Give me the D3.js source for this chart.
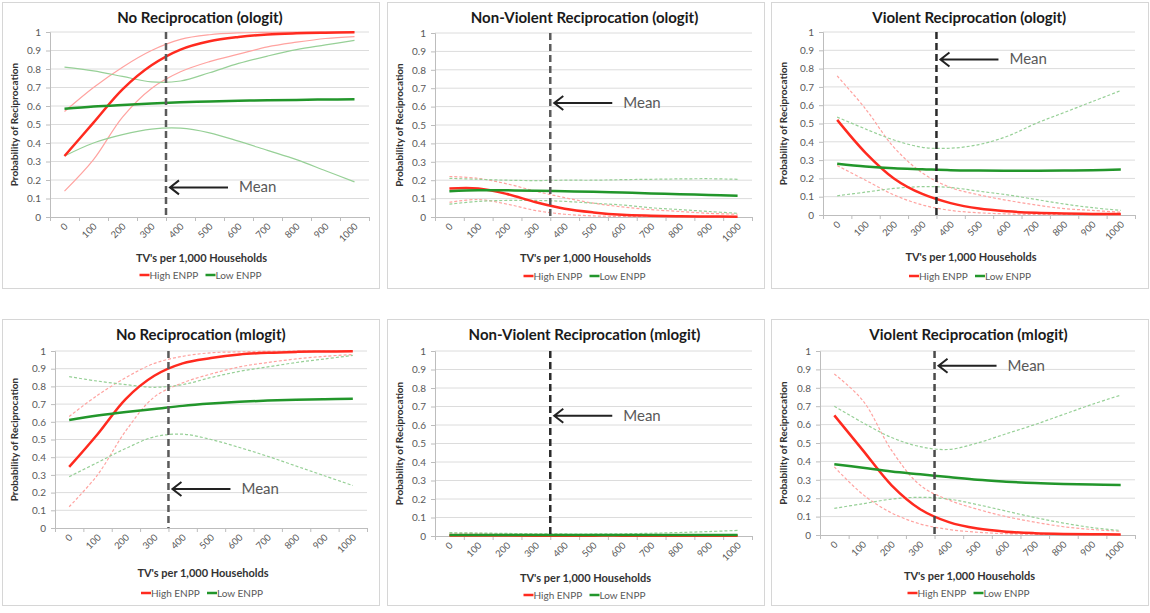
<!DOCTYPE html>
<html>
<head>
<meta charset="utf-8">
<script src="https://cdn.jsdelivr.net/npm/d3@7"></script>
<style>
  body { margin: 0; background: #fff; }
  text { font-family: Lato, "Open Sans", sans-serif; }
</style>
</head>
<body>
<script>
// x categories (TV's per 1,000 households) and y ticks
const tvs = [0, 100, 200, 300, 400, 500, 600, 700, 800, 900, 1000];
const yTicks = [0, 0.1, 0.2, 0.3, 0.4, 0.5, 0.6, 0.7, 0.8, 0.9, 1];
const meanTV = 350;

// No Reciprocation (ologit)
const nrOlHigh   = [0.33, 0.51, 0.69, 0.82, 0.905, 0.95, 0.973, 0.987, 0.993, 0.996, 0.998];
const nrOlHighLo = [0.14, 0.31, 0.54, 0.695, 0.785, 0.84, 0.88, 0.92, 0.945, 0.965, 0.975];
const nrOlHighHi = [0.57, 0.70, 0.81, 0.90, 0.96, 0.985, 0.995, 0.998, 0.999, 1, 1];
const nrOlLow    = [0.585, 0.597, 0.606, 0.614, 0.62, 0.624, 0.628, 0.631, 0.633, 0.635, 0.636];
const nrOlLowLo  = [0.33, 0.40, 0.445, 0.475, 0.48, 0.455, 0.41, 0.36, 0.31, 0.25, 0.19];
const nrOlLowHi  = [0.81, 0.79, 0.76, 0.73, 0.735, 0.78, 0.83, 0.87, 0.905, 0.93, 0.955];

// Non-Violent Reciprocation (ologit)
const nvOlHigh   = [0.155, 0.155, 0.125, 0.08, 0.045, 0.025, 0.012, 0.007, 0.004, 0.003, 0.002];
const nvOlHighLo = [0.08, 0.095, 0.07, 0.035, 0.015, 0.006, 0.003, 0.001, 0.001, 0.001, 0.001];
const nvOlHighHi = [0.22, 0.21, 0.18, 0.14, 0.105, 0.075, 0.055, 0.04, 0.03, 0.02, 0.015];
const nvOlLow    = [0.14, 0.145, 0.145, 0.143, 0.14, 0.137, 0.133, 0.128, 0.124, 0.12, 0.116];
const nvOlLowLo  = [0.07, 0.085, 0.09, 0.09, 0.085, 0.075, 0.065, 0.05, 0.04, 0.03, 0.02];
const nvOlLowHi  = [0.21, 0.205, 0.2, 0.198, 0.2, 0.2, 0.203, 0.205, 0.207, 0.208, 0.205];

// Violent Reciprocation (ologit)
const vOlHigh   = [0.52, 0.34, 0.2, 0.115, 0.065, 0.035, 0.02, 0.012, 0.008, 0.006, 0.005];
const vOlHighLo = [0.27, 0.19, 0.11, 0.055, 0.025, 0.012, 0.006, 0.003, 0.002, 0.001, 0.001];
const vOlHighHi = [0.76, 0.58, 0.37, 0.23, 0.15, 0.11, 0.08, 0.055, 0.035, 0.025, 0.015];
const vOlLow    = [0.28, 0.265, 0.255, 0.25, 0.245, 0.243, 0.242, 0.242, 0.243, 0.245, 0.248];
const vOlLowLo  = [0.105, 0.125, 0.145, 0.155, 0.15, 0.13, 0.11, 0.085, 0.06, 0.04, 0.025];
const vOlLowHi  = [0.535, 0.47, 0.41, 0.37, 0.365, 0.385, 0.43, 0.5, 0.56, 0.62, 0.68];

// No Reciprocation (mlogit)
const nrMlHigh   = [0.345, 0.53, 0.73, 0.86, 0.93, 0.96, 0.98, 0.99, 0.995, 0.997, 0.998];
const nrMlHighLo = [0.12, 0.3, 0.55, 0.74, 0.82, 0.87, 0.91, 0.935, 0.955, 0.97, 0.98];
const nrMlHighHi = [0.63, 0.75, 0.85, 0.93, 0.97, 0.99, 0.995, 0.998, 0.999, 1, 1];
const nrMlLow    = [0.61, 0.635, 0.655, 0.672, 0.69, 0.703, 0.713, 0.72, 0.725, 0.728, 0.73];
const nrMlLowLo  = [0.29, 0.37, 0.45, 0.515, 0.53, 0.5, 0.455, 0.405, 0.35, 0.295, 0.24];
const nrMlLowHi  = [0.855, 0.83, 0.81, 0.795, 0.81, 0.85, 0.885, 0.91, 0.935, 0.955, 0.975];

// Non-Violent Reciprocation (mlogit)
const nvMlHigh   = [0.003, 0.003, 0.003, 0.002, 0.002, 0.002, 0.002, 0.001, 0.001, 0.001, 0.001];
const nvMlHighLo = [0.001, 0.001, 0.001, 0.001, 0, 0, 0, 0, 0, 0, 0];
const nvMlHighHi = [0.015, 0.014, 0.012, 0.01, 0.008, 0.007, 0.006, 0.005, 0.005, 0.005, 0.005];
const nvMlLow    = [0.005, 0.005, 0.005, 0.005, 0.005, 0.005, 0.005, 0.005, 0.006, 0.006, 0.006];
const nvMlLowLo  = [0.001, 0.001, 0.001, 0.001, 0.001, 0.001, 0.001, 0.001, 0.001, 0.001, 0.001];
const nvMlLowHi  = [0.018, 0.016, 0.014, 0.012, 0.011, 0.011, 0.012, 0.015, 0.019, 0.024, 0.03];

// Violent Reciprocation (mlogit)
const vMlHigh   = [0.65, 0.46, 0.27, 0.14, 0.07, 0.035, 0.018, 0.01, 0.006, 0.004, 0.003];
const vMlHighLo = [0.37, 0.22, 0.12, 0.06, 0.03, 0.015, 0.007, 0.004, 0.002, 0.001, 0.001];
const vMlHighHi = [0.875, 0.73, 0.46, 0.27, 0.19, 0.14, 0.1, 0.07, 0.045, 0.03, 0.02];
const vMlLow    = [0.385, 0.365, 0.345, 0.33, 0.315, 0.3, 0.29, 0.282, 0.277, 0.274, 0.272];
const vMlLowLo  = [0.145, 0.17, 0.195, 0.205, 0.195, 0.165, 0.13, 0.095, 0.065, 0.04, 0.025];
const vMlLowHi  = [0.7, 0.61, 0.53, 0.48, 0.465, 0.5, 0.55, 0.6, 0.655, 0.71, 0.76];

// y level of the "Mean" arrow in each panel
const meanArrowY = [0.16, 0.62, 0.85, 0.22, 0.65, 0.92];

const titles = [
  "No Reciprocation (ologit)", "Non-Violent Reciprocation (ologit)", "Violent Reciprocation (ologit)",
  "No Reciprocation (mlogit)", "Non-Violent Reciprocation (mlogit)", "Violent Reciprocation (mlogit)"
];

const series = [
  [nrOlHigh, nrOlHighLo, nrOlHighHi, nrOlLow, nrOlLowLo, nrOlLowHi],
  [nvOlHigh, nvOlHighLo, nvOlHighHi, nvOlLow, nvOlLowLo, nvOlLowHi],
  [vOlHigh, vOlHighLo, vOlHighHi, vOlLow, vOlLowLo, vOlLowHi],
  [nrMlHigh, nrMlHighLo, nrMlHighHi, nrMlLow, nrMlLowLo, nrMlLowHi],
  [nvMlHigh, nvMlHighLo, nvMlHighHi, nvMlLow, nvMlLowLo, nvMlLowHi],
  [vMlHigh, vMlHighLo, vMlHighHi, vMlLow, vMlLowLo, vMlLowHi]
];

// frame + plot rectangles (relative to frame), per panel
const layout = [
  {fx: 2,   fy: 2,   left: 48, right: 367, top: 30, bottom: 215, xt: 260, lg: 273, ciDash: null,  meanCol: "#5a5a5a"},
  {fx: 387, fy: 2,   left: 48, right: 365, top: 31, bottom: 215, xt: 260, lg: 274, ciDash: "3,2", meanCol: "#5a5a5a"},
  {fx: 771, fy: 2,   left: 52, right: 364, top: 30, bottom: 213, xt: 259, lg: 274, ciDash: "3,2", meanCol: "#2a2a2a"},
  {fx: 2,   fy: 319, left: 53, right: 365, top: 32, bottom: 209, xt: 258, lg: 274, ciDash: "3,2", meanCol: "#5a5a5a"},
  {fx: 387, fy: 319, left: 48, right: 365, top: 32, bottom: 217, xt: 263, lg: 276, ciDash: "3,2", meanCol: "#2a2a2a"},
  {fx: 771, fy: 319, left: 49, right: 364, top: 32, bottom: 216, xt: 261, lg: 274, ciDash: "3,2", meanCol: "#4a4a4a"}
];
const frameW = 377, frameH = 286;

const red = "#ff2a1f", redLight = "#ffa3a0";
const green = "#22962b", greenLight = "#97d097";

const svg = d3.select("body").append("svg")
  .attr("width", 1150)
  .attr("height", 613);

layout.forEach((p, i) => {
  const g = svg.append("g").attr("transform", `translate(${p.fx},${p.fy})`);

  g.append("rect")
    .attr("x", 0.5).attr("y", 0.5)
    .attr("width", frameW).attr("height", frameH)
    .attr("fill", "#fff")
    .attr("stroke", "#d6d6d6");

  const x = d3.scaleLinear().domain([-50, 1050]).range([p.left, p.right]);
  const y = d3.scaleLinear().domain([0, 1]).range([p.bottom, p.top]);

  // gridlines
  g.selectAll(".grid").data(yTicks.slice(1)).join("line")
    .attr("x1", p.left).attr("x2", p.right)
    .attr("y1", d => y(d)).attr("y2", d => y(d))
    .attr("stroke", "#dcdcdc");

  // y axis
  const ya = g.append("g")
    .attr("transform", `translate(${p.left},0)`)
    .call(d3.axisLeft(y).tickValues(yTicks).tickSize(4).tickPadding(5).tickFormat(d3.format("~g")));
  ya.selectAll("path, line").attr("stroke", "#bdbdbd");
  ya.selectAll("text").attr("fill", "#595959").style("font-size", "10px").style("font-family", "Lato");

  // x axis with ticks at category boundaries
  const bounds = tvs.map(d => d - 50).concat([1050]);
  const xa = g.append("g")
    .attr("transform", `translate(0,${p.bottom})`)
    .call(d3.axisBottom(x).tickValues(bounds).tickSize(4).tickFormat(""));
  xa.selectAll("path, line").attr("stroke", "#bdbdbd");

  g.selectAll(".xl").data(tvs).join("text")
    .attr("transform", d => `translate(${x(d) + 4},${p.bottom + 10}) rotate(-45)`)
    .attr("text-anchor", "end")
    .attr("fill", "#595959")
    .style("font-size", "9.5px")
    .text(d => d);

  // titles
  const cx = (p.left + p.right) / 2;
  g.append("text")
    .attr("x", (frameW / 2 + cx) / 2).attr("y", 21)
    .attr("text-anchor", "middle")
    .attr("fill", "#1a1a1a")
    .style("font-size", "15px").style("font-weight", "bold")
    .text(titles[i]);

  g.append("text")
    .attr("transform", `translate(16,${(p.top + p.bottom) / 2}) rotate(-90)`)
    .attr("text-anchor", "middle")
    .attr("fill", "#333")
    .style("font-size", "10px").style("font-weight", "bold")
    .text("Probability of Reciprocation");

  g.append("text")
    .attr("x", cx - 8).attr("y", p.xt)
    .attr("text-anchor", "middle")
    .attr("fill", "#333")
    .style("font-size", "11px").style("font-weight", "bold")
    .text("TV's per 1,000 Households");

  // lines (smoothed like the original spreadsheet chart)
  const line = d3.line()
    .x((d, k) => x(tvs[k]))
    .y(d => y(d))
    .curve(d3.curveCatmullRom.alpha(0.5));

  const s = series[i];
  const ci = [
    {d: s[1], c: redLight}, {d: s[2], c: redLight},
    {d: s[4], c: greenLight}, {d: s[5], c: greenLight}
  ];
  g.selectAll(".ci").data(ci).join("path")
    .attr("d", d => line(d.d))
    .attr("fill", "none")
    .attr("stroke", d => d.c)
    .attr("stroke-width", 1.2)
    .attr("stroke-dasharray", p.ciDash);

  g.append("path").attr("d", line(s[0]))
    .attr("fill", "none").attr("stroke", red).attr("stroke-width", 2.5);
  g.append("path").attr("d", line(s[3]))
    .attr("fill", "none").attr("stroke", green).attr("stroke-width", 2.5);

  // mean line and arrow
  const mx = x(meanTV);
  g.append("line")
    .attr("x1", mx).attr("x2", mx)
    .attr("y1", y(1)).attr("y2", y(0))
    .attr("stroke", p.meanCol)
    .attr("stroke-width", 2.5)
    .attr("stroke-dasharray", "7,4");

  const ay = y(meanArrowY[i]);
  const tip = mx + 4, tail = mx + 62;
  g.append("path")
    .attr("d", `M${tail},${ay}H${tip}M${tip + 9},${ay - 7}L${tip},${ay}L${tip + 9},${ay + 7}`)
    .attr("fill", "none")
    .attr("stroke", "#222")
    .attr("stroke-width", 2);
  g.append("text")
    .attr("x", tail + 11).attr("y", ay + 5)
    .attr("fill", "#595959")
    .style("font-size", "15px")
    .text("Mean");

  // legend
  const lg = g.append("g").attr("transform", `translate(${cx - 8},${p.lg})`);
  lg.append("line").attr("x1", -62).attr("x2", -52).attr("stroke", red).attr("stroke-width", 2.5);
  lg.append("text").attr("x", -52).attr("y", 3.5).attr("fill", "#595959").style("font-size", "10px").text("High ENPP");
  lg.append("line").attr("x1", 4).attr("x2", 14).attr("stroke", green).attr("stroke-width", 2.5);
  lg.append("text").attr("x", 14).attr("y", 3.5).attr("fill", "#595959").style("font-size", "10px").text("Low ENPP");
});
</script>
</body>
</html>
